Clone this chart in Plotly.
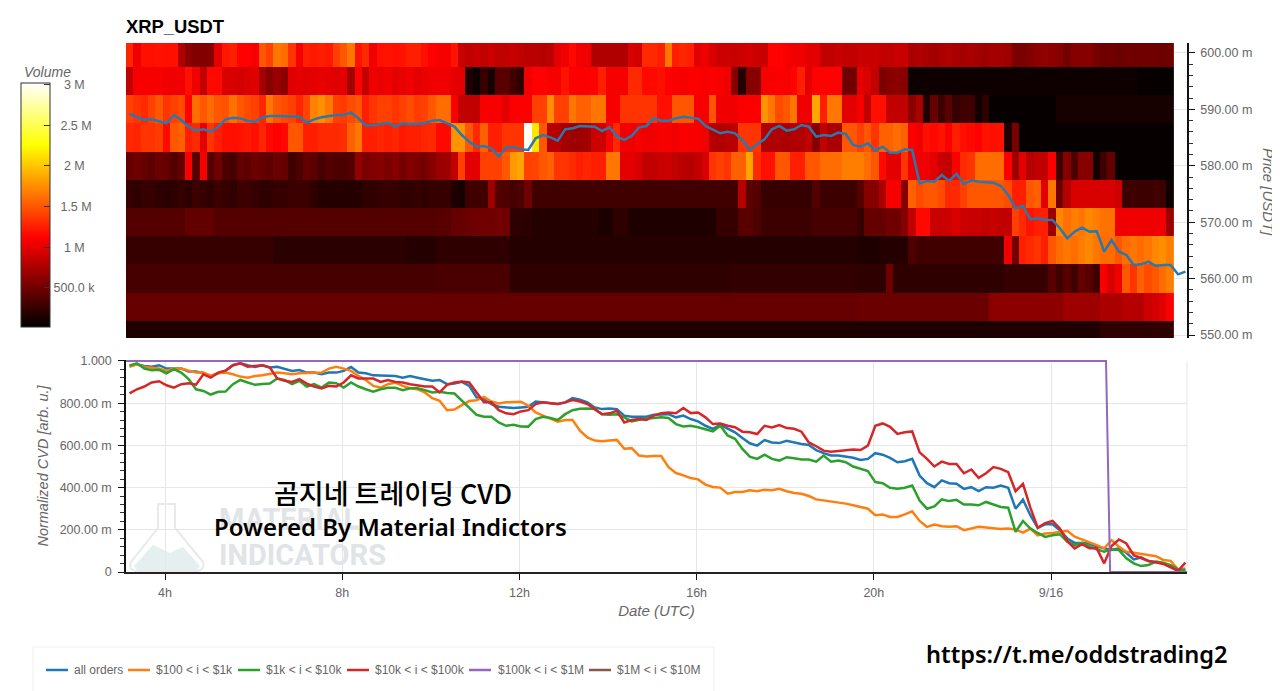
#!/usr/bin/env python3
# XRP_USDT order book heatmap with normalized CVD per order size
import pandas as pd
import plotly.graph_objs as go

# heatmap volume per 10 minute column, one row per price bin, in units of 10k
ROW_600 = [128,105,118,118,120,118,118,78,62,58,58,60,100,122,125,112,112,108,150,140,165,160,135,108,125,122,125,122,140,150,165,120,130,105,118,120,118,120,125,125,118,112,
           108,108,120,88,85,88,85,90,85,85,88,85,82,82,80,82,100,105,115,105,105,78,78,78,78,78,95,92,130,130,125,165,125,128,125,100,105,95,90,90,88,90,92,90,88,112,112,108,105,105,100,100,85,85,88,85,85,
           88,88,88,85,85,88,88,75,78,75,72,75,78,75,72,75,72,70,72,72,70,55,55,58,62,65,62,60,52,60,60,60,52,50,50,48,50,50,50,50,50,48,50]
ROW_595 = [85,108,108,108,108,105,105,105,118,105,85,115,115,95,95,92,95,98,72,60,68,62,98,100,98,100,102,100,98,100,72,112,85,105,102,105,100,102,105,100,102,105,
           105,105,100,100,15,8,25,12,40,40,30,22,105,112,112,108,108,120,110,110,110,112,125,108,108,108,130,130,115,115,118,112,110,108,110,110,108,110,108,105,60,18,60,60,108,108,110,108,112,125,100,112,112,112,112,50,50,
           100,95,85,55,60,62,60] + [8] * 31 + [5] * 5
ROW_590 = [140,135,130,140,150,135,140,145,112,160,150,160,150,148,162,150,145,140,128,165,150,145,140,128,142,170,175,165,140,138,145,150,125,135,140,140,135,140,145,138,140,150,
           160,160,110,85,85,85,108,108,108,100,110,110,110,140,140,175,140,140,165,155,155,165,165,108,108,135,135,135,135,135,118,118,150,150,150,108,108,150,105,105,105,110,110,110,178,165,145,150,165,105,105,186,125,165,165,100,100,
           108,85,118,118,85,85,85,62,75,15,45,28,42,25,30,30,10,22] + [5] * 9 + [12] * 16
ROW_585 = [130,128,135,135,138,115,150,155,125,130,100,135,125,118,118,120,122,118,128,115,112,115,150,150,125,125,130,130,130,132,155,165,125,125,128,125,128,122,125,125,128,130,
           115,115,178,178,150,130,155,125,125,135,135,135,300,215,150,80,80,72,70,70,72,90,90,110,130,105,105,108,105,105,108,108,105,110,108,108,105,80,78,80,82,135,135,135,78,78,78,75,78,78,85,60,85,75,75,150,150,
           140,150,135,155,155,160,155,110,105,118,115,120,110,125,118,115,112,120,118,120,15,55] + [5] * 21
ROW_580 = [45,50,45,42,48,45,38,45,110,40,108,38,50,35,32,45,42,48,45,42,48,45,30,35,45,42,32,38,35,35,38,65,55,58,60,55,60,52,58,55,52,60,
           68,70,85,140,100,100,140,140,140,150,180,185,140,142,150,155,135,135,130,125,128,125,125,165,165,100,100,95,85,85,88,90,85,82,80,85,95,135,140,135,155,155,185,130,118,120,150,150,125,125,150,150,160,160,160,168,168,
           168,160,150,115,100,100,135,105,105,105,100,88,85,110,130,135,160,160,160,160,110,70,100,80,85,85,110,30,60,35,60,60,10,30,45] + [5] * 8
ROW_575 = [25,22,25,25,22,20,22,25,20,28,25,22,28,25,22,28,28,25,22,22,25,25,28,28,28,22,18,18,18,18,18,18,22,22,25,25,25,22,22,25,22,25,
           25,25,15,12,30,30,30,70,38,35,32,35,50] + [30] * 28 + [80,42,38] + [25] * 7 + [38] + [28] * 5 + [
           40,60,60,75,108,108,60,155,145,150,150,145,130,130,140,150,150,150,150,150,145,125,125,150,155,100,165,50,80,95,95,95,95,95,95,90,28,30,28,28,30,28,8]
ROW_570 = [38] * 8 + [44] * 4 + [38] * 30 + [
           40,40,46,46,48,50,50,50,52,50,22,22,20] + [18] * 9 + [14,14,22,22] + [15] * 12 + [25,25,25,40,40,35] + [28] * 7 + [32] * 6 + [
           25,45,45,45,50,50,60,85,115,115,88,88,90,95,90,88,88,85,88,85,85,140,130,120,125,125,70,172,162,168,165,172,168,162,162,105,105,105,105,105,105,105,70]
ROW_565 = [25] * 20 + [20] * 18 + [18] * 4 + [22] * 10 + [18] * 47 + [
           15,15,15,18,18,18,18,35] + [30] * 12 + [105,50,125,130,135,125,150,160,165,160,168,172,165,160,160,150,160,165,160,165,172,175,168]
ROW_560 = [32] * 42 + [34] * 10 + [22] * 30 + [24] * 17 + [22,22,22,22,50] + [22] * 15 + [25] * 6 + [
           40,30,40,30,45,40,30,110,95,105,150,135,155,145,150,160,168]
ROW_555 = [46] * 42 + [46] * 57 + [48] * 18 + [62] * 10 + [70] * 5 + [75] * 3 + [80] * 3 + [90,92,98,110]
ROW_550 = [15] * 132 + [22] * 10

HEAT_PRICES = [0.550, 0.555, 0.560, 0.565, 0.570, 0.575, 0.580, 0.585, 0.590, 0.595, 0.600]
HEAT_ROWS = [ROW_550, ROW_555, ROW_560, ROW_565, ROW_570, ROW_575, ROW_580, ROW_585, ROW_590, ROW_595, ROW_600]

# price in milli USDT, one point per 10 minutes
PRICE = [589.18,588.71,588.12,588.23,587.82,587.53,589.0,588.12,586.93,586.22,586.46,586.05,586.93,588.23,588.53,588.41,588.0,587.82,588.59,588.83,
         588.83,588.83,588.71,588.71,587.64,588.23,588.59,588.83,589.0,589.0,589.42,588.41,587.11,587.17,587.35,587.64,586.93,587.53,587.41,587.41,587.6,
         588.0,588.12,587.53,586.94,585.46,584.28,583.39,583.51,583.1,581.62,583.28,583.28,582.92,582.8,584.87,585.46,585.05,584.46,586.47,586.65,587.06,587.06,586.94,586.17,586.82,585.17,584.58,585.29,586.82,587.06,588.42,588.0,588.0,588.42,588.71,588.54,588.36,587.06,586.35,585.76,586.05,585.76,584.58,582.8,583.87,584.69,586.47,587.06,586.23,586.47,587.24,586.94,585.17,585.46,585.29,585.88,585.64,
         583.69,583.39,583.99,582.68,583.39,582.33,582.33,582.92,582.8,576.89,577.31,577.19,578.37,577.37,578.55,576.77,577.37,577.19,577.13,577.01,576.42,574.82,572.46,572.93,570.51,570.69,570.39,570.39,568.92,567.14,568.33,569.03,568.33,568.38,564.78,566.85,564.78,564.19,562.41,562.53,563.0,562.24,562.41,562.41,560.76,561.23]

# normalized CVD in milli units, one point per 10 minutes
CVD_ALL = [976,984,976,973,980,964,964,964,950,950,942,929,942,954,980,989,980,972,980,969,973,964,953,957,945,945,937,945,945,953,972,945,942,932,932,932,929,921,929,921,914,906,910,
           890,893,901,882,827,819,796,783,780,777,780,783,808,804,800,796,804,824,816,804,780,772,775,772,741,736,736,736,745,748,748,733,741,725,714,693,678,697,678,662,635,610,
           599,625,614,611,622,614,607,602,578,563,552,552,547,541,531,536,563,556,541,520,525,536,457,421,402,434,421,418,394,402,383,402,399,410,399,300,343,269,209,226,226,198,
           159,138,138,135,120,112,104,112,91,60,69,52,46,41,28,6,2]
CVD_100_1K = [973,984,972,967,964,953,964,964,953,945,945,929,942,945,937,926,921,929,932,937,945,942,937,942,942,942,945,964,973,964,953,929,910,882,874,890,898,882,871,866,851,824,811,
              767,770,791,810,814,830,808,799,804,807,807,788,756,741,725,712,720,720,670,638,623,620,623,626,584,587,552,547,550,550,497,469,458,445,439,414,403,400,371,379,379,387,
              383,390,387,394,383,374,371,360,344,339,336,332,324,316,308,300,269,272,261,261,273,288,242,214,225,217,214,217,198,206,214,211,207,204,206,201,187,206,174,182,185,190,
              195,167,154,143,127,112,151,120,96,91,85,80,75,57,53,13,17]
CVD_1K_10K = [979,989,964,956,958,942,961,945,914,866,858,841,854,855,890,910,898,887,891,893,917,910,890,906,879,890,874,898,895,874,898,879,866,855,866,873,873,862,871,871,862,851,854,
              848,846,811,780,745,736,736,709,693,698,690,689,725,736,730,720,748,767,774,775,772,748,745,748,733,714,720,728,730,733,730,701,690,693,686,675,667,693,647,631,583,547,
              536,556,536,528,544,539,533,533,523,552,523,528,520,500,489,478,426,421,399,394,399,410,339,300,311,344,336,342,320,320,316,332,320,308,305,190,242,206,185,166,174,179,
              143,127,138,123,107,96,107,104,65,41,28,33,49,44,33,13,10]
CVD_10K_100K = [847,866,879,898,904,885,874,890,895,888,937,921,945,954,980,989,973,976,980,969,917,906,901,914,893,879,870,882,879,898,932,917,917,917,901,910,901,898,890,885,879,879,851,
                887,898,903,898,851,804,804,767,752,748,761,767,796,804,800,796,804,815,808,796,772,748,752,764,709,720,725,720,741,752,756,752,777,753,756,733,701,704,693,686,665,662,
                654,693,685,696,682,679,665,614,596,575,570,572,577,580,578,599,693,704,688,654,662,666,567,536,500,523,512,512,468,486,446,468,497,489,473,383,418,305,210,232,242,206,
                146,112,132,112,112,41,123,154,135,80,65,52,46,38,22,6,44]
CVD_100K_1M = [1000, 1000, 0, 0]
CVD_100K_1M_TIMES = ['2024-09-15 03:07', '2024-09-16 01:14:30', '2024-09-16 01:20', '2024-09-16 03:04']

SERIES_NAMES = ['all orders', '$100 < i < $1k', '$1k < i < $10k', '$10k < i < $100k', '$100k < i < $1M', '$1M < i < $10M']
SERIES_COLORS = ['#1f77b4', '#ff7f0e', '#2ca02c', '#d62728', '#9467bd', '#8c564b']

PRICE_TICKS = [0.55, 0.56, 0.57, 0.58, 0.59, 0.60]
PRICE_LABELS = ['550.00 m', '560.00 m', '570.00 m', '580.00 m', '590.00 m', '600.00 m']
CVD_TICKS = [0, 0.2, 0.4, 0.6, 0.8, 1.0]
CVD_LABELS = ['0', '200.00 m', '400.00 m', '600.00 m', '800.00 m', '1.000']
TIME_TICKS = ['2024-09-15 04:00', '2024-09-15 08:00', '2024-09-15 12:00', '2024-09-15 16:00', '2024-09-15 20:00', '2024-09-16 00:00']
TIME_LABELS = ['4h', '8h', '12h', '16h', '20h', '9/16']
VOLUME_TICKS = [500000, 1000000, 1500000, 2000000, 2500000, 3000000]
VOLUME_LABELS = ['500.0 k', '\u00a0\u00a0\u00a01 M', '\u00a0\u00a01.5 M', '\u00a0\u00a0\u00a02 M', '\u00a0\u00a02.5 M', '\u00a0\u00a0\u00a03 M']

lengths = [len(s) for s in HEAT_ROWS + [PRICE, CVD_ALL, CVD_100_1K, CVD_1K_10K, CVD_10K_100K]]
assert lengths == [142] * 11 + [144] * 5, lengths

W, H = 1280, 691
# the page body keeps its default 8 px margin
OFF_X, OFF_Y = 8, 8


def px(x):
    return (x - OFF_X) / W


def py(y):
    return 1 - (y - OFF_Y) / H


TIMES = pd.date_range('2024-09-15 03:12', periods=144, freq='10min')
TIME_RANGE = ['2024-09-15 03:07:10', '2024-09-16 03:04:10']
GRID = '#e6e6e6'
AXIS = '#333333'
TEXT = '#666666'
FONT = 'Liberation Sans'

# hot style colour map, black through red and yellow to white
HOT = [[0, '#000000'], [0.365, '#ff0000'], [0.746, '#ffff00'], [1, '#ffffff']]

FIG = go.Figure()
FIG.add_trace(go.Heatmap(
    x=TIMES[:142], y=HEAT_PRICES,
    z=[[v * 10000 for v in row] for row in HEAT_ROWS],
    colorscale=HOT, zmin=20000, zmax=3020000, xaxis='x', yaxis='y',
    hoverinfo='skip',
    colorbar=dict(
        x=px(21), xanchor='left', xpad=0, y=py(83), yanchor='top', ypad=0,
        len=244, lenmode='pixels', thickness=29, thicknessmode='pixels',
        outlinecolor=AXIS, outlinewidth=1,
        tickmode='array', tickvals=VOLUME_TICKS, ticktext=VOLUME_LABELS,
        ticks='inside', ticklen=6, tickcolor=AXIS, tickwidth=1,
        tickfont=dict(family=FONT, size=12.5, color=TEXT),
    ),
))
FIG.add_trace(go.Scatter(x=TIMES, y=[p / 1000 for p in PRICE], mode='lines', name='price',
                         line=dict(color='#2a78ad', width=2.5), xaxis='x', yaxis='y', showlegend=False))

for name, color, values in zip(SERIES_NAMES, SERIES_COLORS, [CVD_ALL, CVD_100_1K, CVD_1K_10K, CVD_10K_100K]):
    FIG.add_trace(go.Scatter(x=TIMES, y=[v / 1000 for v in values], mode='lines', name=name,
                             line=dict(color=color, width=2.5), xaxis='x2', yaxis='y2', showlegend=False))
FIG.add_trace(go.Scatter(x=CVD_100K_1M_TIMES, y=[v / 1000 for v in CVD_100K_1M], mode='lines', name=SERIES_NAMES[4],
                         line=dict(color=SERIES_COLORS[4], width=2), xaxis='x2', yaxis='y2', showlegend=False))

# texts placed in pixels of the page
NOTES = [
    dict(text='Volume', x=47, y=72, font=dict(family=FONT, size=14, color=TEXT, style='italic')),
    dict(text='Price [USDT]', x=1268, y=192, textangle=90, font=dict(family=FONT, size=15, color=TEXT, style='italic')),
    dict(text='MATERIAL', x=217, y=519, xanchor='left', font=dict(family='Roboto', size=29, color='#e0e4e6', weight='bold')),
    dict(text='INDICATORS', x=217, y=555, xanchor='left', font=dict(family='Roboto', size=29, color='#e0e4e6', weight='bold')),
    dict(text='곰지네 트레이딩 CVD', x=393, y=492, font=dict(family='Noto Sans CJK KR', size=27, color='#000000', weight=500)),
    dict(text='Powered By Material Indictors', x=390, y=526, font=dict(family='Noto Sans', size=24, color='#000000', weight=600)),
    dict(text='https://t.me/oddstrading2', x=1077, y=654, font=dict(family='Noto Sans', size=23.6, color='#000000', weight=600)),
]
ANNOTATIONS = []
for note in NOTES:
    item = dict(xref='paper', yref='paper', showarrow=False, xanchor='center', yanchor='middle')
    item.update(note)
    item['x'] = px(note['x'])
    item['y'] = py(note['y'])
    ANNOTATIONS.append(item)

# watermark flask, frame of the lower plot and the legend box
SHAPES = [
    dict(type='path', xref='paper', yref='paper', layer='below', line=dict(color='#e8eaea', width=2), fillcolor='rgba(0,0,0,0)',
         path=f'M {px(158)} {py(504)} L {px(175)} {py(504)} L {px(175)} {py(528)} L {px(203)} {py(562)} Q {px(205)} {py(571)} {px(195)} {py(571)} '
              f'L {px(138)} {py(571)} Q {px(128)} {py(571)} {px(131)} {py(562)} L {px(158)} {py(528)} Z'),
    dict(type='path', xref='paper', yref='paper', layer='below', line=dict(width=0), fillcolor='#e6efef',
         path=f'M {px(134)} {py(566)} L {px(153)} {py(545)} L {px(170)} {py(553)} L {px(183)} {py(547)} L {px(200)} {py(566)} '
              f'L {px(197)} {py(570)} L {px(137)} {py(570)} Z'),
    dict(type='line', xref='paper', yref='paper', layer='below', line=dict(color=GRID, width=1),
         x0=px(1187), x1=px(1187), y0=py(361), y1=py(572)),
    dict(type='rect', xref='paper', yref='paper', layer='below', line=dict(color='#eeeeee', width=1), fillcolor='#ffffff',
         x0=px(33), x1=px(714), y0=py(647), y1=py(700)),
]

# legend row, bokeh style with short lines
LEGEND_LINE_X = [46, 128, 238, 347, 469, 589]
LEGEND_TEXT_X = [74, 156, 266, 375, 498, 617]
for name, color, lx, tx in zip(SERIES_NAMES, SERIES_COLORS, LEGEND_LINE_X, LEGEND_TEXT_X):
    SHAPES.append(dict(type='line', xref='paper', yref='paper', line=dict(color=color, width=2.5),
                       x0=px(lx), x1=px(lx + 22), y0=py(670), y1=py(670)))
    ANNOTATIONS.append(dict(text=name.replace('<', '&lt;'), xref='paper', yref='paper', showarrow=False, xanchor='left', yanchor='middle',
                            x=px(tx), y=py(670), xshift=-2, font=dict(family=FONT, size=12, color=TEXT)))

FIG.update_layout(
    width=W, height=H, autosize=False,
    margin=dict(l=0, r=0, t=0, b=0, autoexpand=False),
    paper_bgcolor='white', plot_bgcolor='white',
    showlegend=False,
    title=dict(text='XRP_USDT', x=px(126), xanchor='left', xref='paper', y=py(27), yanchor='middle',
               font=dict(family=FONT, size=18.4, color='#000000', weight='bold')),
    xaxis=dict(domain=[px(126), px(1187)], range=TIME_RANGE, type='date', anchor='y', visible=False),
    yaxis=dict(domain=[py(338), py(43)], range=[0.54947, 0.60177], anchor='x', side='right',
               tickmode='array', tickvals=PRICE_TICKS, ticktext=PRICE_LABELS,
               showline=True, linecolor='#111111', linewidth=1.5,
               ticks='outside', ticklen=6, tickcolor='#111111', tickwidth=1, ticklabelstandoff=3,
               minor=dict(tick0=0.55, dtick=0.002, ticks='outside', ticklen=4, tickcolor='#333333', showgrid=False),
               showgrid=True, gridcolor=GRID, zeroline=False,
               tickfont=dict(family=FONT, size=12.5, color=TEXT)),
    xaxis2=dict(domain=[px(126), px(1187)], range=TIME_RANGE, type='date', anchor='y2',
                tickmode='array', tickvals=TIME_TICKS, ticktext=TIME_LABELS,
                showline=True, linecolor='#222222', linewidth=1.5,
                ticks='outside', ticklen=6, tickcolor='#111111', ticklabelstandoff=2,
                showgrid=True, gridcolor=GRID, zeroline=False,
                tickfont=dict(family=FONT, size=12.5, color=TEXT),
                title=dict(text='Date (UTC)', standoff=7, font=dict(family=FONT, size=15, color=TEXT, style='italic'))),
    yaxis2=dict(domain=[py(572), py(360)], range=[0, 1.0047], anchor='x2',
                tickmode='array', tickvals=CVD_TICKS, ticktext=CVD_LABELS,
                showline=True, linecolor='#111111', linewidth=1.5,
                ticks='outside', ticklen=6, tickcolor='#111111', ticklabelstandoff=4,
                minor=dict(tick0=0, dtick=0.04, ticks='outside', ticklen=4, tickcolor='#333333', showgrid=False),
                showgrid=True, gridcolor=GRID, zeroline=False,
                tickfont=dict(family=FONT, size=12.5, color=TEXT),
                title=dict(text='Normalized CVD [arb. u.]', standoff=8, font=dict(family=FONT, size=14.5, color=TEXT, style='italic'))),
    annotations=ANNOTATIONS,
    shapes=SHAPES,
)

FIG.write_html('out.html')
